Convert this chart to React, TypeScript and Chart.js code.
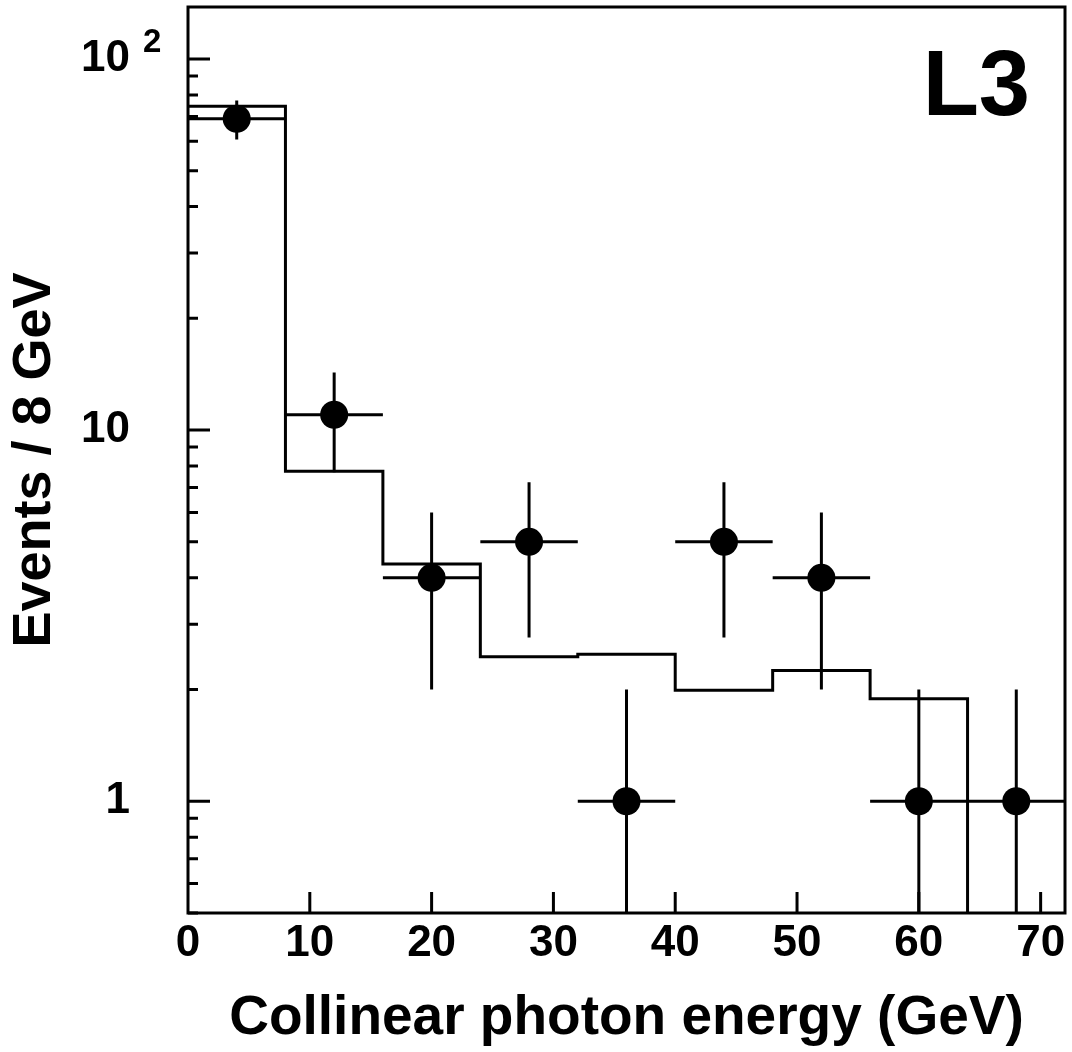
import React, { useEffect, useRef } from 'react';
import { Chart, registerables } from 'chart.js';

Chart.register(...registerables);

// ---- data ----
const binEdges = [0, 8, 16, 24, 32, 40, 48, 56, 64, 72];
// last bin lies below the visible range (drawn clipped at the axis)
const mcValues = [74.6, 7.75, 4.36, 2.45, 2.49, 1.99, 2.25, 1.89, 0.1];
const dataX = [4, 12, 20, 28, 36, 44, 52, 60, 68];
const dataY = [69, 11, 4, 5, 1, 5, 4, 1, 1];
const errXHalf = [4, 4, 4, 4, 4, 4, 4, 4, 4];
const errYUp = [8.3, 3.3, 2, 2.24, 1, 2.24, 2, 1, 1];
const errYDown = [8.3, 3.3, 2, 2.24, 1, 2.24, 2, 1, 1];
const xTickValues = [0, 10, 20, 30, 40, 50, 60, 70];
const yLabelValues = [1, 10, 100];
const yLabelTexts = ['1', '10', '10'];
const xTitle = 'Collinear photon energy (GeV)';
const yTitle = 'Events / 8 GeV';
const experimentLabel = 'L3';

const FONT = "'Liberation Sans', Arial, Helvetica, sans-serif";

const decorPlugin = {
  id: 'decor',
  beforeDatasetsDraw(chart: any) {
    const { ctx, chartArea: a } = chart;
    const x = chart.scales.x;
    const y = chart.scales.y;
    ctx.save();
    ctx.beginPath();
    ctx.rect(a.left, a.top, a.right - a.left, a.bottom - a.top);
    ctx.clip();
    ctx.strokeStyle = '#000';
    ctx.lineWidth = 3;
    ctx.lineCap = 'butt';
    for (let i = 0; i < dataX.length; i++) {
      const px = x.getPixelForValue(dataX[i]);
      const py = y.getPixelForValue(dataY[i]);
      const xl = x.getPixelForValue(dataX[i] - errXHalf[i]);
      const xr = x.getPixelForValue(dataX[i] + errXHalf[i]);
      const yt = y.getPixelForValue(dataY[i] + errYUp[i]);
      const lo = dataY[i] - errYDown[i];
      const yb = lo > 0 ? y.getPixelForValue(lo) : a.bottom;
      ctx.beginPath();
      ctx.moveTo(xl, py);
      ctx.lineTo(xr, py);
      ctx.moveTo(px, yt);
      ctx.lineTo(px, yb);
      ctx.stroke();
    }
    ctx.restore();
  },
  afterDraw(chart: any) {
    const { ctx, chartArea: a } = chart;
    const x = chart.scales.x;
    const y = chart.scales.y;
    ctx.save();
    ctx.strokeStyle = '#000';
    ctx.lineWidth = 3;
    ctx.lineCap = 'butt';
    // frame
    ctx.strokeRect(a.left, a.top, a.right - a.left, a.bottom - a.top);
    // y ticks (inward)
    ctx.beginPath();
    for (const t of y.ticks) {
      const v = t.value;
      if (v < y.min * 0.9999 || v > y.max) continue;
      const e = Math.floor(Math.log10(v) + 1e-9);
      const m = v / Math.pow(10, e);
      if (Math.abs(m - Math.round(m)) > 1e-6) continue;
      const len = Math.round(m) === 1 ? 22 : 10;
      const py = y.getPixelForValue(v);
      ctx.moveTo(a.left, py);
      ctx.lineTo(a.left + len, py);
    }
    // x ticks (inward)
    for (const t of x.ticks) {
      const v = t.value;
      if (v <= x.min || v >= x.max) continue;
      const px = x.getPixelForValue(v);
      ctx.moveTo(px, a.bottom);
      ctx.lineTo(px, a.bottom - 21);
    }
    ctx.stroke();
    // superscript exponent on the 10^2 label
    ctx.fillStyle = '#000';
    ctx.font = `bold 33px ${FONT}`;
    ctx.textAlign = 'left';
    ctx.textBaseline = 'alphabetic';
    ctx.fillText('2', a.left - 45, y.getPixelForValue(100) - 7);
    // experiment label
    ctx.font = `bold 92px ${FONT}`;
    ctx.textAlign = 'right';
    ctx.fillText(experimentLabel, a.right - 35, a.top + 108);
    ctx.restore();
  },
};

export default function App() {
  const canvasRef = useRef<HTMLCanvasElement | null>(null);

  useEffect(() => {
    const canvas = canvasRef.current;
    if (!canvas) return;
    const histData = binEdges.map((edge, i) => ({
      x: edge,
      y: i < mcValues.length ? mcValues[i] : mcValues[mcValues.length - 1],
    }));
    const pointData = dataX.map((v, i) => ({ x: v, y: dataY[i] }));

    const chart = new Chart(canvas, {
      type: 'scatter',
      data: {
        datasets: [
          {
            type: 'line',
            data: histData,
            stepped: 'before',
            borderColor: '#000',
            borderWidth: 3,
            borderJoinStyle: 'miter',
            borderCapStyle: 'butt',
            pointRadius: 0,
            fill: false,
            showLine: true,
          } as any,
          {
            data: pointData,
            backgroundColor: '#000',
            borderWidth: 0,
            pointRadius: 14,
          },
        ],
      },
      options: {
        animation: false,
        responsive: false,
        devicePixelRatio: 1,
        events: [],
        layout: { autoPadding: false, padding: { top: 7, right: 7, left: 0, bottom: 0 } },
        plugins: { legend: { display: false }, tooltip: { enabled: false } },
        scales: {
          x: {
            type: 'linear',
            min: 0,
            max: 72,
            grid: { display: false, drawTicks: false },
            border: { display: false },
            afterBuildTicks: (s: any) => {
              s.ticks = xTickValues.map((v) => ({ value: v }));
            },
            ticks: {
              autoSkip: false,
              maxRotation: 0,
              padding: 4,
              color: '#000',
              font: { family: FONT, size: 44, weight: 'bold' },
              callback: (v: any) => String(v),
            },
            title: {
              display: true,
              text: xTitle,
              color: '#000',
              font: { family: FONT, size: 55, weight: 'bold' },
              padding: { top: 0, bottom: 0 },
            },
            afterFit: (s: any) => {
              s.height = 139;
              s.paddingLeft = 0;
              s.paddingRight = 0;
            },
          },
          y: {
            type: 'logarithmic',
            min: 0.5,
            max: 138,
            grid: { display: false, drawTicks: false },
            border: { display: false },
            ticks: {
              autoSkip: false,
              padding: 58,
              color: '#000',
              font: { family: FONT, size: 44, weight: 'bold' },
              callback: (v: any) => {
                const idx = yLabelValues.findIndex((t) => Math.abs(Number(v) - t) < 1e-9);
                return idx >= 0 ? yLabelTexts[idx] : '';
              },
            },
            title: {
              display: true,
              text: yTitle,
              color: '#000',
              font: { family: FONT, size: 54, weight: 'bold' },
              padding: { top: 3, bottom: 0 },
            },
            afterFit: (s: any) => {
              s.width = 188;
              s.paddingTop = 0;
              s.paddingBottom = 0;
            },
          },
        },
      },
      plugins: [decorPlugin],
    } as any);

    return () => chart.destroy();
  }, []);

  return (
    <div style={{ position: 'fixed', left: 0, top: 0, width: 1072, height: 1052, background: '#fff' }}>
      <canvas ref={canvasRef} width={1072} height={1052} style={{ width: 1072, height: 1052, display: 'block' }} />
    </div>
  );
}
